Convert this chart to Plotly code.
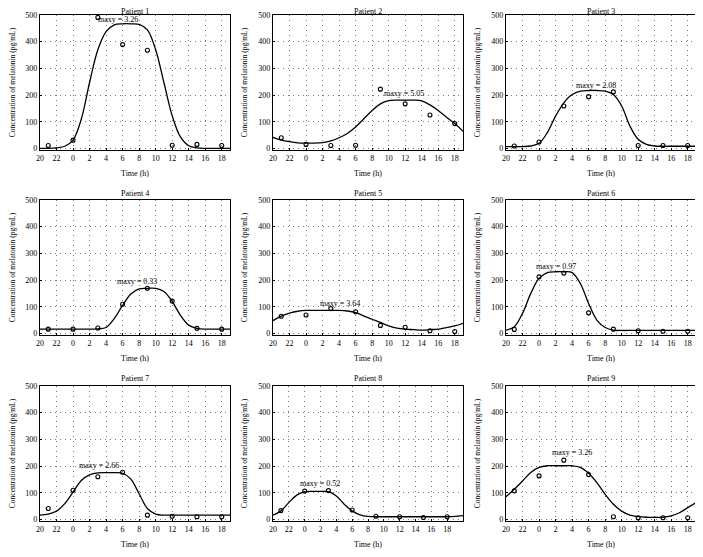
import plotly.graph_objects as go
from plotly.subplots import make_subplots

# ---- data ----
sample_times = [21, 24, 27, 30, 33, 36, 39, 42]          # 21:00 ... 18:00 next day (hours since 0:00 day 1)
tick_vals = [20, 22, 24, 26, 28, 30, 32, 34, 36, 38, 40, 42]
tick_text = ["20", "22", "0", "2", "4", "6", "8", "10", "12", "14", "16", "18"]

fit_times = list(range(20, 44))       # hourly points of the fitted curves
fit_times_p8 = list(range(20, 45))

patients = ["Patient 1", "Patient 2", "Patient 3", "Patient 4", "Patient 5",
            "Patient 6", "Patient 7", "Patient 8", "Patient 9"]

obs_p1 = [11, 31, 491, 389, 368, 12, 15, 11]
obs_p2 = [40, 15, 11, 12, 222, 167, 125, 93]
obs_p3 = [9, 24, 159, 194, 212, 11, 11, 11]
obs_p4 = [16, 16, 20, 109, 169, 121, 19, 16]
obs_p5 = [64, 69, 93, 81, 30, 23, 10, 7]
obs_p6 = [15, 212, 226, 77, 16, 10, 8, 8]
obs_p7 = [41, 109, 160, 177, 16, 12, 10, 10]
obs_p8 = [33, 106, 108, 35, 12, 10, 7, 10]
obs_p9 = [107, 163, 222, 168, 10, 6, 6, 6]

fit_p1 = [0, 0, 2, 8, 31, 110, 247, 370, 438, 463, 467, 467, 465, 444, 370, 247,
          123, 43, 10, 2, 0, 0, 0, 0]
fit_p2 = [41, 31, 25, 21, 20, 20, 22, 28, 40, 56, 80, 111, 142, 167, 179, 181,
          181, 181, 178, 163, 142, 117, 93, 64]
fit_p3 = [7, 7, 7, 9, 19, 59, 121, 171, 202, 215, 217, 217, 215, 202, 159, 84,
          34, 15, 9, 8, 8, 8, 8, 8]
fit_p4 = [16, 16, 16, 16, 16, 16, 16, 17, 22, 56, 105, 148, 167, 169, 169, 157,
          120, 68, 31, 19, 16, 16, 16, 16]
fit_p5 = [48, 65, 76, 83, 86, 86, 86, 86, 86, 84, 78, 65, 53, 41, 28, 20,
          16, 14, 12, 14, 16, 22, 28, 38]
fit_p6 = [12, 25, 75, 150, 206, 228, 231, 231, 228, 187, 112, 50, 22, 12, 11, 11,
          11, 11, 11, 11, 11, 11, 11, 11]
fit_p7 = [16, 20, 31, 59, 102, 146, 167, 174, 175, 175, 173, 151, 96, 41, 20, 16,
          16, 16, 16, 16, 16, 16, 16, 16]
fit_p8 = [16, 32, 63, 91, 103, 105, 105, 104, 88, 57, 32, 17, 11, 10, 10, 10,
          10, 10, 10, 10, 10, 10, 10, 11, 14]
fit_p9 = [85, 113, 144, 176, 195, 201, 201, 201, 201, 195, 173, 138, 94, 57, 31, 16,
          10, 8, 8, 8, 13, 25, 44, 63]

max_labels = ["maxy = 3.26", "maxy = 5.05", "maxy = 2.08", "maxy = 0.33", "maxy = 3.64",
              "maxy = 0.97", "maxy = 2.66", "maxy = 0.52", "maxy = 3.26"]
label_x = [29.4, 35.8, 30.9, 31.7, 28.1, 26.0, 27.2, 25.9, 28.0]
label_y = [483, 207, 236, 194, 111, 252, 201, 134, 249]

obs_all = [obs_p1, obs_p2, obs_p3, obs_p4, obs_p5, obs_p6, obs_p7, obs_p8, obs_p9]
fit_all = [fit_p1, fit_p2, fit_p3, fit_p4, fit_p5, fit_p6, fit_p7, fit_p8, fit_p9]
fit_x_all = [fit_times] * 7 + [fit_times_p8] + [fit_times]
x_max = [43, 43, 43, 43, 43, 43, 43, 44, 43]

# ---- figure ----
PAGE_MARGIN = 8                      # default <body> margin of the html page
W, H = 703 - PAGE_MARGIN, 557 - PAGE_MARGIN
FONT = "Liberation Serif"
# plot areas in page pixels
col_px = [(40, 230), (273, 463), (506, 696)]
row_px = [(15, 150), (200, 335), (386, 521)]
title_px = [11, 193, 378]            # centre of the panel titles (page pixels)


def px_x(p):
    return (p - PAGE_MARGIN) / W


def px_y(p):
    return 1 - (p - PAGE_MARGIN) / H


fig = make_subplots(rows=3, cols=3)

for i in range(9):
    r, c = divmod(i, 3)
    n = i + 1
    xa = "xaxis" if n == 1 else f"xaxis{n}"
    ya = "yaxis" if n == 1 else f"yaxis{n}"
    xref = "x" if n == 1 else f"x{n}"
    yref = "y" if n == 1 else f"y{n}"

    fig.add_trace(go.Scatter(x=fit_x_all[i], y=fit_all[i], mode="lines",
                             line=dict(color="black", width=1.3, shape="spline", smoothing=1.0),
                             showlegend=False, hoverinfo="skip"), row=r + 1, col=c + 1)
    fig.add_trace(go.Scatter(x=sample_times, y=obs_all[i], mode="markers",
                             marker=dict(symbol="circle-open", size=4, color="black",
                                         line=dict(width=1.1, color="black")),
                             showlegend=False), row=r + 1, col=c + 1)

    x0, x1 = col_px[c]
    y0, y1 = row_px[r]
    fig.layout[xa].update(
        domain=[px_x(x0), px_x(x1)], range=[20, x_max[i]], automargin=False,
        tickvals=tick_vals, ticktext=tick_text,
        showgrid=True, gridcolor="#7a7a7a", griddash="1px,4px", gridwidth=1,
        showline=True, linecolor="black", linewidth=1.2, mirror=True,
        ticks="inside", ticklen=2, tickcolor="black",
        tickfont=dict(family=FONT, size=8, color="black"),
        title=dict(text="Time (h)", font=dict(family=FONT, size=8, color="black"), standoff=8),
        zeroline=False,
    )
    fig.layout[ya].update(
        domain=[px_y(y1), px_y(y0)], range=[-6, 500], automargin=False,
        tickvals=[0, 100, 200, 300, 400, 500],
        showgrid=True, gridcolor="#7a7a7a", griddash="1px,4px", gridwidth=1,
        showline=True, linecolor="black", linewidth=1.2, mirror=True,
        ticks="inside", ticklen=2, tickcolor="black",
        tickfont=dict(family=FONT, size=8, color="black"),
        title=dict(text="Concentration of melatonin (pg/mL)",
                   font=dict(family=FONT, size=7.5, color="black"), standoff=9),
        zeroline=False,
    )
    fig.add_annotation(x=label_x[i], y=label_y[i], xref=xref, yref=yref,
                       xanchor="center", yanchor="middle",
                       text=max_labels[i], showarrow=False,
                       font=dict(family=FONT, size=8, color="black"))
    fig.add_annotation(x=px_x((x0 + x1) / 2), y=px_y(title_px[r]), xref="paper", yref="paper",
                       xanchor="center", yanchor="middle",
                       text=patients[i], showarrow=False,
                       font=dict(family=FONT, size=8, color="black"))

fig.update_layout(template="none", width=W, height=H, margin=dict(l=0, r=0, t=0, b=0),
                  plot_bgcolor="white", paper_bgcolor="white",
                  font=dict(family=FONT, color="black"))

fig.write_html("out.html")
